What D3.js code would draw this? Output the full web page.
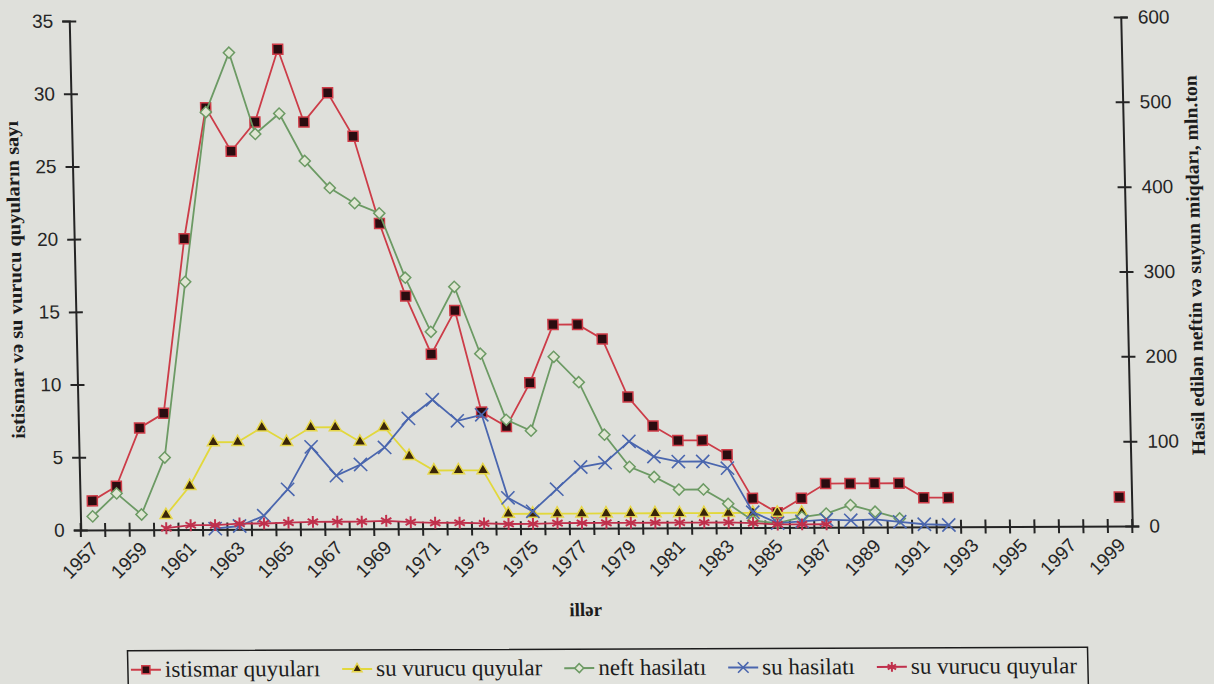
<!DOCTYPE html>
<html>
<head>
<meta charset="utf-8">
<script src="https://cdn.jsdelivr.net/npm/d3@7"></script>
<style>
  html, body { margin: 0; padding: 0; background: #dfe0db; }
  svg { display: block; }
</style>
</head>
<body>
<svg id="chart" width="1214" height="684"></svg>
<script>
// Categories (years) and tick labels
const years = [1957,1958,1959,1960,1961,1962,1963,1964,1965,1966,1967,1968,1969,1970,
  1971,1972,1973,1974,1975,1976,1977,1978,1979,1980,1981,1982,1983,1984,1985,1986,
  1987,1988,1989,1990,1991,1992,1993,1994,1995,1996,1997,1998,1999];
const yearLabels = [1957,1959,1961,1963,1965,1967,1969,1971,1973,1975,1977,1979,1981,
  1983,1985,1987,1989,1991,1993,1995,1997,1999];
const leftTicks = [0,5,10,15,20,25,30,35];
const rightTicks = [0,100,200,300,400,500,600];

// Well counts (left axis)
const istismarQuyulari = [2,3,7,8,20,29,26,28,33,28,30,27,21,16,12,15,8,7,10,14,14,13,9,7,
  6,6,5,2,1,2,3,3,3,3,2,2,null,null,null,null,null,null,2];
const suVurucuQuyular = [null,null,null,1,3,6,6,7,6,7,7,6,7,5,4,4,4,1,1,1,1,1,1,1,
  1,1,1,1,1,1,null,null,null,null,null,null,null,null,null,null,null,null,null];
const suVurucuQuyular2 = [null,null,null,0.1,0.3,0.3,0.4,0.4,0.45,0.5,0.5,0.5,0.55,0.45,
  0.4,0.4,0.35,0.3,0.3,0.35,0.35,0.35,0.35,0.35,0.35,0.35,0.35,0.3,0.2,0.2,0.2,
  null,null,null,null,null,null,null,null,null,null,null,null];

// Produced oil and water (right axis)
const neftHasilati = [16,43,18,85,292,492,562,466,490,434,402,384,372,296,232,285,206,128,
  115,202,172,110,72,60,45,45,28,8,5,12,16,26,18,10,null,null,null,null,null,null,null,null,null];
const suHasilati = [null,null,null,null,null,1,4,16,47,97,63,76,96,130,152,127,134,36,20,46,
  72,77,102,84,78,78,70,18,5,7,9,8,9,6,3,2,null,null,null,null,null,null,null];

const W = 1214, H = 684;
const PW = 1051.5, PH = 509;

const svg = d3.select("#chart");
svg.append("rect").attr("width", W).attr("height", H).attr("fill", "#dfe0db");

// The page is slightly skewed; the whole chart lives in one sheared frame
const g = svg.append("g")
  .attr("transform", "matrix(1,-0.0038,0.0226,1,69.25,21)");

const x = d3.scaleBand().domain(years).range([0, PW]);
const bw = x.bandwidth();
const yL = d3.scaleLinear().domain([0, 35]).range([PH, 0]);
const yR = d3.scaleLinear().domain([0, 600]).range([PH, 0]);

const axisColor = "#242424";
const tickFont = "'Liberation Sans', Arial, sans-serif";
const labelColor = "#262626";

// Left axis
const leftAxis = g.append("g")
  .call(d3.axisLeft(yL).tickValues(leftTicks).tickSize(7).tickPadding(9));
leftAxis.select(".domain").attr("stroke", axisColor).attr("stroke-width", 2);
leftAxis.selectAll(".tick line").attr("x1", 7).attr("stroke", axisColor).attr("stroke-width", 2);
leftAxis.selectAll(".tick text").attr("font-family", tickFont).attr("font-size", 19).attr("fill", labelColor);

// Right axis
const rightAxis = g.append("g").attr("transform", `translate(${PW},0)`)
  .call(d3.axisRight(yR).tickValues(rightTicks).tickSize(7).tickPadding(10));
rightAxis.select(".domain").attr("stroke", axisColor).attr("stroke-width", 2);
rightAxis.selectAll(".tick line").attr("x1", -7).attr("stroke", axisColor).attr("stroke-width", 2);
rightAxis.selectAll(".tick text").attr("font-family", tickFont).attr("font-size", 19).attr("fill", labelColor);

// Bottom axis: labels on every other year, tick marks between categories
const bottomAxis = g.append("g").attr("transform", `translate(0,${PH})`)
  .call(d3.axisBottom(x).tickValues(yearLabels).tickSize(0).tickPadding(0));
bottomAxis.select(".domain").attr("stroke", axisColor).attr("stroke-width", 2);
bottomAxis.selectAll(".tick text")
  .attr("font-family", tickFont).attr("font-size", 19).attr("fill", labelColor)
  .attr("text-anchor", "end")
  .attr("x", 0).attr("y", 0).attr("dy", 0)
  .attr("transform", "translate(6,20) rotate(-45)");
bottomAxis.selectAll(".bandtick")
  .data(years.concat(["end"]))
  .join("line")
  .attr("class", "bandtick")
  .attr("x1", d => d === "end" ? PW : x(d))
  .attr("x2", d => d === "end" ? PW : x(d))
  .attr("y1", -7).attr("y2", 7)
  .attr("stroke", axisColor).attr("stroke-width", 2);

// Axis titles
const serif = "'Liberation Serif', 'Times New Roman', serif";
g.append("text")
  .attr("transform", `translate(-58,${PH / 2 + 4}) rotate(-90)`)
  .attr("text-anchor", "middle").attr("dominant-baseline", "middle")
  .attr("font-family", serif).attr("font-weight", "bold").attr("font-size", 19)
  .attr("textLength", 318).attr("lengthAdjust", "spacingAndGlyphs")
  .attr("fill", "#1c1c1c")
  .text("istismar və su vurucu quyuların sayı");
g.append("text")
  .attr("transform", `translate(${PW + 70},${PH / 2 - 6}) rotate(-90)`)
  .attr("text-anchor", "middle").attr("dominant-baseline", "middle")
  .attr("font-family", serif).attr("font-weight", "bold").attr("font-size", 19)
  .attr("textLength", 380).attr("lengthAdjust", "spacingAndGlyphs")
  .attr("fill", "#1c1c1c")
  .text("Hasil edilən neftin və suyun miqdarı, mln.ton");
g.append("text")
  .attr("x", 503).attr("y", PH + 88)
  .attr("text-anchor", "middle")
  .attr("font-family", serif).attr("font-weight", "bold").attr("font-size", 19)
  .attr("fill", "#1c1c1c")
  .text("illər");

// Series definitions
const series = [
  { name: "istismar quyuları", values: istismarQuyulari, y: yL, line: "#cc3c48",
    symbol: d3.symbolSquare, size: 100, fill: "#2a0c10", stroke: "#cf3c48", sw: 1.5, rot: 0 },
  { name: "su vurucu quyular", values: suVurucuQuyular, y: yL, line: "#e2d83c",
    symbol: d3.symbolTriangle, size: 62, fill: "#3a2608", stroke: "#e6d64a", sw: 1.5, rot: 0 },
  { name: "neft hasilatı", values: neftHasilati, y: yR, line: "#6c9a64",
    symbol: d3.symbolSquare, size: 62, fill: "#e0e6d4", stroke: "#6c9a64", sw: 1.5, rot: 45 },
  { name: "su hasilatı", values: suHasilati, y: yR, line: "#4a66ae",
    symbol: d3.symbolTimes, size: 115, fill: "none", stroke: "#4a66ae", sw: 1.6, rot: 0 },
  { name: "su vurucu quyular", values: suVurucuQuyular2, y: yL, line: "#c0304c",
    symbol: d3.symbolAsterisk, size: 100, fill: "none", stroke: "#c0304c", sw: 2, rot: 0 }
];

const cx = yr => x(yr) + bw / 2;

series.forEach(s => {
  const pts = years.map((yr, i) => ({ yr, v: s.values[i] }));
  g.append("path")
    .datum(pts)
    .attr("fill", "none")
    .attr("stroke", s.line)
    .attr("stroke-width", 1.8)
    .attr("d", d3.line().defined(d => d.v != null).x(d => cx(d.yr)).y(d => s.y(d.v)));
  g.append("g").selectAll("path")
    .data(pts.filter(d => d.v != null))
    .join("path")
    .attr("transform", d => `translate(${cx(d.yr)},${s.y(d.v)}) rotate(${s.rot})`)
    .attr("d", d3.symbol(s.symbol, s.size))
    .attr("fill", s.fill)
    .attr("stroke", s.stroke)
    .attr("stroke-width", s.sw);
});

// Legend: one row inside a framed box, items spread to fill it
const legendW = 960, legendH = 38;
const legend = g.append("g").attr("transform", `translate(44,${PH + 121})`);
legend.append("rect")
  .attr("width", legendW).attr("height", legendH)
  .attr("fill", "#e2e3de").attr("stroke", "#1c1c1c").attr("stroke-width", 1.5);
const sampleW = 30, textGap = 4, pad = 3;
const items = series.map(s => {
  const item = legend.append("g");
  item.append("line").attr("x1", 0).attr("x2", sampleW).attr("y1", 0).attr("y2", 0)
    .attr("stroke", s.line).attr("stroke-width", 2);
  item.append("path")
    .attr("transform", `translate(${sampleW / 2},0) rotate(${s.rot})`)
    .attr("d", d3.symbol(s.symbol, s.size * 0.65))
    .attr("fill", s.fill).attr("stroke", s.stroke).attr("stroke-width", s.sw);
  const t = item.append("text")
    .attr("x", sampleW + textGap).attr("y", 7)
    .attr("font-family", serif).attr("font-size", 23).attr("fill", "#1c1c1c")
    .text(s.name);
  return { item, w: sampleW + textGap + t.node().getComputedTextLength() };
});
const usedW = d3.sum(items, d => d.w);
const gap = (legendW - 2 * pad - 8 - usedW) / (items.length - 1);
let lx = pad;
items.forEach(d => {
  d.item.attr("transform", `translate(${lx},${legendH / 2})`);
  lx += d.w + gap;
});
</script>
</body>
</html>
